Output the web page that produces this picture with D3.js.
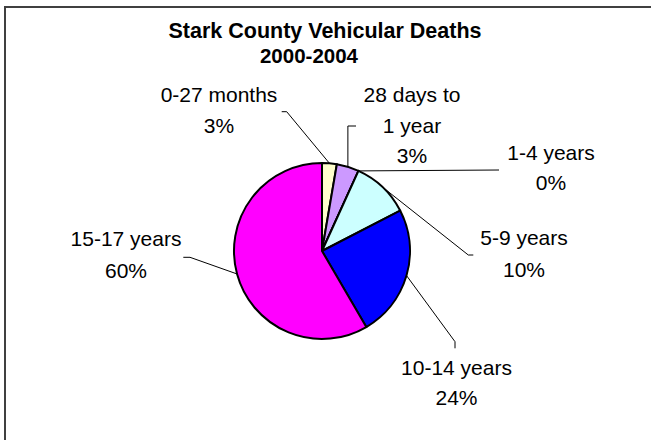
<!DOCTYPE html>
<html>
<head>
<meta charset="utf-8">
<script src="https://cdn.jsdelivr.net/npm/d3@7"></script>
<style>
  html, body { margin: 0; padding: 0; background: #fff; }
  svg { display: block; }
  text { font-family: "Liberation Sans", Arial, sans-serif; fill: #000; }
</style>
</head>
<body>
<svg id="chart" width="651" height="440"></svg>
<script>
// ---- data ----
const categories = ["0-27 months", "28 days to 1 year", "1-4 years", "5-9 years", "10-14 years", "15-17 years"];
const values = [2.7, 4.1, 0, 10.6, 24.2, 58.4];
const percentLabels = ["3%", "3%", "0%", "10%", "24%", "60%"];
const colors = ["#FFFFCC", "#CC99FF", "#9999FF", "#CCFFFF", "#0000FF", "#FF00FF"];
const titleLines = ["Stark County Vehicular Deaths", "2000-2004"];

// ---- layout (annotation placement) ----
const labelLines = [
  ["0-27 months"], ["28 days to", "1 year"], ["1-4 years"], ["5-9 years"], ["10-14 years"], ["15-17 years"]
];
const labelPos = [
  { x: 219, y: 101.7, lh: 31.6 },
  { x: 412, y: 102, lh: 30.5 },
  { x: 551, y: 160, lh: 30 },
  { x: 524, y: 245, lh: 31.7 },
  { x: 456.5, y: 375, lh: 30 },
  { x: 126, y: 246, lh: 32 }
];
// leader path after leaving the rim: list of points
const leaderPts = [
  [[286.7, 111.7], [281.7, 111.7]],
  [["sx", 126], [356, 126]],
  [[499, 170]],
  [[468.3, 255], [473.3, 255]],
  [[455, 341.7], [455, 348.3]],
  [[190, 257.3], [183.3, 257.3]]
];

const svg = d3.select("#chart");
const W = 651, H = 440;
const cx = 322, cy = 251, R = 88;

// frame
svg.append("rect")
  .attr("x", 5).attr("y", 7).attr("width", W + 20).attr("height", H + 20)
  .attr("fill", "#fff").attr("stroke", "#404040").attr("stroke-width", 2);

// title
svg.append("text").attr("x", 325).attr("y", 38.3).attr("text-anchor", "middle")
  .attr("font-size", 21.5).attr("font-weight", "bold").text(titleLines[0]);
svg.append("text").attr("x", 309).attr("y", 63.3).attr("text-anchor", "middle")
  .attr("font-size", 20.5).attr("font-weight", "bold").text(titleLines[1]);

const pie = d3.pie().sort(null).value(d => d).startAngle(0).endAngle(2 * Math.PI);
const arcs = pie(values);
const arc = d3.arc().innerRadius(0).outerRadius(R);

const g = svg.append("g").attr("transform", `translate(${cx},${cy})`);
g.selectAll("path.slice").data(arcs).join("path")
  .attr("class", "slice")
  .attr("d", arc)
  .attr("fill", (d, i) => colors[i])
  .attr("stroke", "#000")
  .attr("stroke-width", 2)
  .attr("stroke-linejoin", "round");

// leader lines
arcs.forEach((a, i) => {
  const mid = (a.startAngle + a.endAngle) / 2;
  const sx = cx + R * Math.sin(mid);
  const sy = cy - R * Math.cos(mid);
  const pts = [[sx, sy]].concat(leaderPts[i].map(p => [p[0] === "sx" ? sx : p[0], p[1]]));
  svg.append("path")
    .attr("d", d3.line()(pts))
    .attr("fill", "none").attr("stroke", "#000").attr("stroke-width", 1);
});

// labels
arcs.forEach((a, i) => {
  const lines = labelLines[i].concat([percentLabels[i]]);
  const p = labelPos[i];
  const t = svg.append("text").attr("text-anchor", "middle").attr("font-size", 21);
  lines.forEach((ln, j) => {
    t.append("tspan").attr("x", p.x).attr("y", p.y + j * p.lh).text(ln);
  });
});
</script>
</body>
</html>
